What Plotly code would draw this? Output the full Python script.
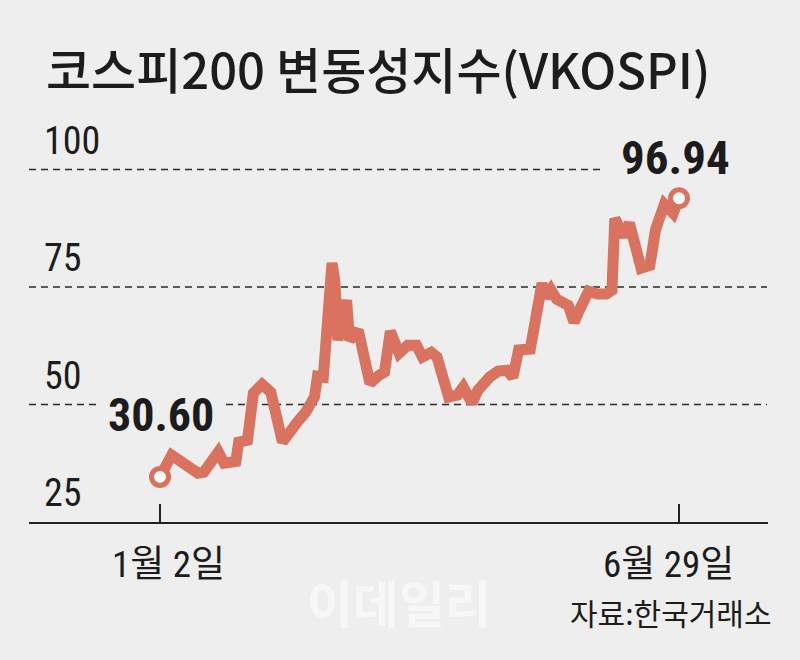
import plotly.graph_objects as go
import pandas as pd

# ---- data ----
dates = ["2022-01-02", "2022-01-06", "2022-01-11", "2022-01-15", "2022-01-17", "2022-01-22",
         "2022-01-24", "2022-01-28", "2022-01-29", "2022-02-01", "2022-02-03", "2022-02-06",
         "2022-02-09", "2022-02-13", "2022-02-18", "2022-02-21", "2022-02-24", "2022-02-25",
         "2022-02-27", "2022-03-02", "2022-03-03", "2022-03-04", "2022-03-07", "2022-03-08",
         "2022-03-11", "2022-03-13", "2022-03-15", "2022-03-18", "2022-03-20", "2022-03-22",
         "2022-03-25", "2022-03-28", "2022-03-31", "2022-04-02", "2022-04-05", "2022-04-07",
         "2022-04-11", "2022-04-14", "2022-04-16", "2022-04-19", "2022-04-21", "2022-04-25",
         "2022-04-28", "2022-05-01", "2022-05-03", "2022-05-05", "2022-05-09", "2022-05-13",
         "2022-05-14", "2022-05-16", "2022-05-18", "2022-05-22", "2022-05-24", "2022-05-26",
         "2022-05-29", "2022-06-01", "2022-06-04", "2022-06-06", "2022-06-07", "2022-06-10",
         "2022-06-12", "2022-06-16", "2022-06-19", "2022-06-21", "2022-06-24", "2022-06-27",
         "2022-06-29"]
vkospi = [34.6, 39.2, 37.1, 35.4, 35.6, 39.9, 37.5, 37.9, 42.0, 42.4, 52.4, 54.3,
          52.6, 42.0, 46.2, 48.4, 51.6, 56.0, 55.8, 80.1, 76.0, 63.7, 72.2, 63.7,
          65.8, 60.9, 54.5, 56.2, 56.9, 65.6, 60.9, 62.6, 62.6, 60.1, 61.1, 60.1,
          51.6, 52.0, 53.7, 50.3, 53.0, 55.8, 57.1, 57.3, 55.8, 61.6, 61.8, 75.8,
          72.8, 74.5, 72.4, 71.1, 67.5, 70.3, 74.1, 73.5, 73.5, 74.3, 89.6, 85.8,
          88.6, 79.0, 79.6, 87.3, 92.6, 90.7, 93.9]
first_label = "30.60"
last_label = "96.94"
ytick_vals = [100, 75, 50, 25]
xtick_vals = ["2022-01-02", "2022-06-29"]
xtick_text = ["1월 2일", "6월 29일"]
title_text = "코스피200 변동성지수(VKOSPI)"
source_text = "자료:한국거래소"
watermark_text = "이데일리"

# ---- styling ----
BG = "#eeeeee"
LINE = "#d9725f"
INK = "#1c1c1c"
NARROW = "Liberation Sans Narrow, Roboto Condensed, Noto Sans CJK KR, sans-serif"
CJK = "Noto Sans CJK KR, sans-serif"

# x range so that first date sits at ~160px and last at ~679px
W, H = 800, 660
L, R, T, B = 29, 32, 146, 138
x0 = pd.Timestamp(dates[0]); x1 = pd.Timestamp(dates[-1])
days = (x1 - x0).days
ppd = (679 - 160) / days
xr = [x0 + pd.Timedelta(days=(L - 160) / ppd), x0 + pd.Timedelta(days=(W - R - 160) / ppd)]

fig = go.Figure()
fig.add_trace(go.Scatter(
    x=dates, y=vkospi, mode="lines",
    line=dict(color=LINE, width=11),
    hoverinfo="skip", showlegend=False))
fig.add_trace(go.Scatter(
    x=[dates[0], dates[-1]], y=[vkospi[0], vkospi[-1]], mode="markers",
    marker=dict(size=17, color="white", line=dict(color=LINE, width=5)),
    hoverinfo="skip", showlegend=False))

def px2paper(px):
    return (px - L) / (W - L - R)

# dashed gridlines (partially broken like the reference)
grid_segments = [(100, 29, 604), (75, 29, 767), (50, 29, 97), (50, 226, 767)]
for val, a, b in grid_segments:
    fig.add_shape(type="line", xref="paper", yref="y",
                  x0=px2paper(a), x1=px2paper(b), y0=val, y1=val,
                  line=dict(color="#2a2a2a", width=1.6, dash="7px,5px"), layer="below")

ann = []
# title
ann.append(dict(text=title_text, xref="paper", yref="paper", x=px2paper(44), y=(522 - 67) / 376,
                xanchor="left", yanchor="middle", showarrow=False,
                font=dict(family=CJK, size=49, color=INK, weight=500)))
# y tick labels
for v in ytick_vals:
    ann.append(dict(text=str(v), xref="paper", yref="y", x=px2paper(42), y=v, yshift=29,
                    xanchor="left", yanchor="middle", showarrow=False,
                    font=dict(family=NARROW, size=38, color=INK)))
# x tick labels
for xv, xt, sh in zip(xtick_vals, xtick_text, [8, -11]):
    ann.append(dict(text=xt, x=xv, y=25, xref="x", yref="y", yshift=-42, xshift=sh,
                    xanchor="center", yanchor="middle", showarrow=False,
                    font=dict(family=NARROW, size=37, color=INK)))
# value labels
ann.append(dict(text=f"<b>{first_label}</b>", x=dates[0], y=vkospi[0], xshift=1, yshift=62,
                xanchor="center", yanchor="middle", showarrow=False,
                font=dict(family=NARROW, size=46, color=INK)))
ann.append(dict(text=f"<b>{last_label}</b>", x=dates[-1], y=vkospi[-1], xshift=-4, yshift=41,
                xanchor="center", yanchor="middle", showarrow=False,
                font=dict(family=NARROW, size=47, color=INK)))
# source
ann.append(dict(text=source_text, xref="paper", yref="paper", x=px2paper(774), y=(522 - 612) / 376,
                xanchor="right", yanchor="middle", showarrow=False,
                font=dict(family=CJK, size=30, color=INK)))
# watermark
ann.append(dict(text=f"<b>{watermark_text}</b>", xref="paper", yref="paper", x=px2paper(399),
                y=(522 - 601) / 376, xanchor="center", yanchor="middle", showarrow=False,
                font=dict(family=CJK, size=50, color="rgba(255,255,255,0.55)")))

fig.update_layout(
    width=W, height=H, margin=dict(l=L, r=R, t=T, b=B, pad=0),
    paper_bgcolor=BG, plot_bgcolor=BG,
    annotations=ann,
    xaxis=dict(range=xr, showgrid=False, zeroline=False, showline=True,
               linecolor="#222222", linewidth=2,
               tickmode="array", tickvals=xtick_vals, ticks="inside", ticklen=18,
               tickwidth=1.5, tickcolor="#222222", showticklabels=False, fixedrange=True),
    yaxis=dict(range=[25, 105], showgrid=False, zeroline=False, showline=False,
               showticklabels=False, ticks="", fixedrange=True),
)

fig.write_html("out.html", config={"displayModeBar": False})
